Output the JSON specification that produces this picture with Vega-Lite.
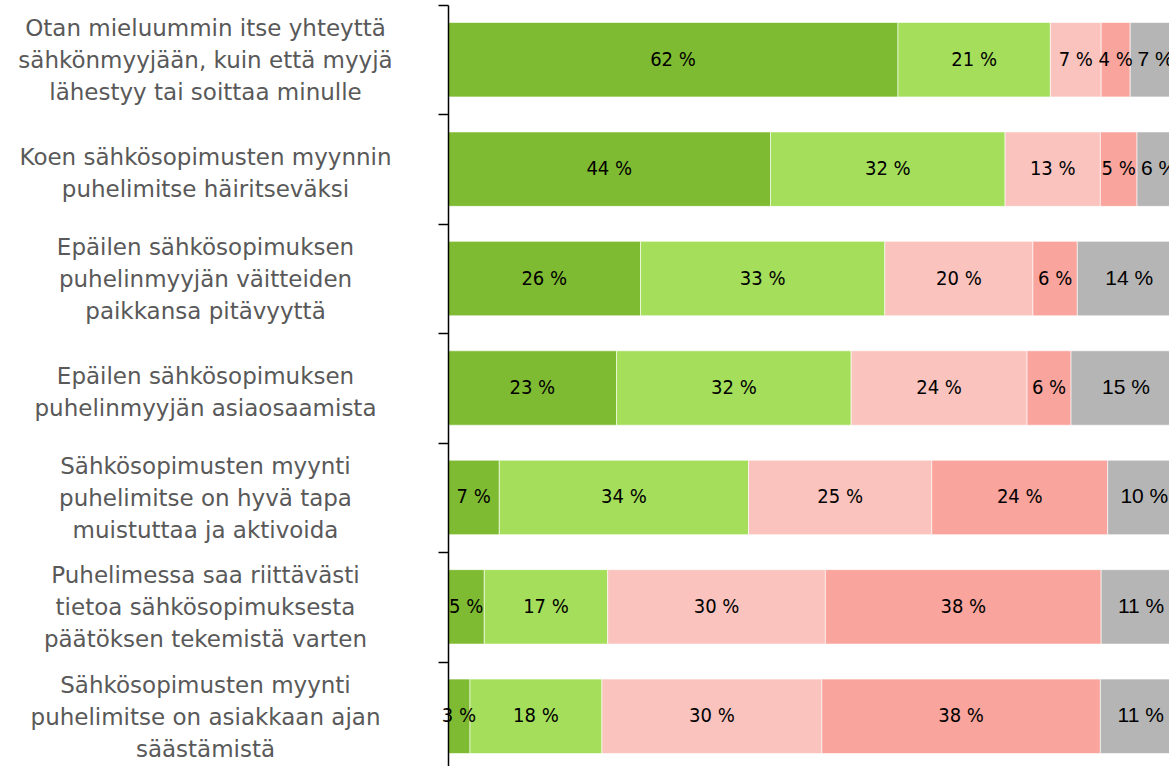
{
  "$schema": "https://vega.github.io/schema/vega-lite/v6.json",
  "width": 733,
  "height": 766,
  "autosize": {"type": "none"},
  "padding": {"left": 448, "top": 5, "right": 0, "bottom": 0},
  "config": {"view": {"stroke": null}},
  "data": {
    "values": [
      {"q": "Otan mieluummin itse yhteyttä\nsähkönmyyjään, kuin että myyjä\nlähestyy tai soittaa minulle", "o": 1, "s": "a", "v": 62},
      {"q": "Otan mieluummin itse yhteyttä\nsähkönmyyjään, kuin että myyjä\nlähestyy tai soittaa minulle", "o": 2, "s": "b", "v": 21},
      {"q": "Otan mieluummin itse yhteyttä\nsähkönmyyjään, kuin että myyjä\nlähestyy tai soittaa minulle", "o": 3, "s": "c", "v": 7},
      {"q": "Otan mieluummin itse yhteyttä\nsähkönmyyjään, kuin että myyjä\nlähestyy tai soittaa minulle", "o": 4, "s": "d", "v": 4},
      {"q": "Otan mieluummin itse yhteyttä\nsähkönmyyjään, kuin että myyjä\nlähestyy tai soittaa minulle", "o": 5, "s": "e", "v": 7},
      {"q": "Koen sähkösopimusten myynnin\npuhelimitse häiritseväksi", "o": 1, "s": "a", "v": 44},
      {"q": "Koen sähkösopimusten myynnin\npuhelimitse häiritseväksi", "o": 2, "s": "b", "v": 32},
      {"q": "Koen sähkösopimusten myynnin\npuhelimitse häiritseväksi", "o": 3, "s": "c", "v": 13},
      {"q": "Koen sähkösopimusten myynnin\npuhelimitse häiritseväksi", "o": 4, "s": "d", "v": 5},
      {"q": "Koen sähkösopimusten myynnin\npuhelimitse häiritseväksi", "o": 5, "s": "e", "v": 6},
      {"q": "Epäilen sähkösopimuksen\npuhelinmyyjän väitteiden\npaikkansa pitävyyttä", "o": 1, "s": "a", "v": 26},
      {"q": "Epäilen sähkösopimuksen\npuhelinmyyjän väitteiden\npaikkansa pitävyyttä", "o": 2, "s": "b", "v": 33},
      {"q": "Epäilen sähkösopimuksen\npuhelinmyyjän väitteiden\npaikkansa pitävyyttä", "o": 3, "s": "c", "v": 20},
      {"q": "Epäilen sähkösopimuksen\npuhelinmyyjän väitteiden\npaikkansa pitävyyttä", "o": 4, "s": "d", "v": 6},
      {"q": "Epäilen sähkösopimuksen\npuhelinmyyjän väitteiden\npaikkansa pitävyyttä", "o": 5, "s": "e", "v": 14},
      {"q": "Epäilen sähkösopimuksen\npuhelinmyyjän asiaosaamista", "o": 1, "s": "a", "v": 23},
      {"q": "Epäilen sähkösopimuksen\npuhelinmyyjän asiaosaamista", "o": 2, "s": "b", "v": 32},
      {"q": "Epäilen sähkösopimuksen\npuhelinmyyjän asiaosaamista", "o": 3, "s": "c", "v": 24},
      {"q": "Epäilen sähkösopimuksen\npuhelinmyyjän asiaosaamista", "o": 4, "s": "d", "v": 6},
      {"q": "Epäilen sähkösopimuksen\npuhelinmyyjän asiaosaamista", "o": 5, "s": "e", "v": 15},
      {"q": "Sähkösopimusten myynti\npuhelimitse on hyvä tapa\nmuistuttaa ja aktivoida", "o": 1, "s": "a", "v": 7},
      {"q": "Sähkösopimusten myynti\npuhelimitse on hyvä tapa\nmuistuttaa ja aktivoida", "o": 2, "s": "b", "v": 34},
      {"q": "Sähkösopimusten myynti\npuhelimitse on hyvä tapa\nmuistuttaa ja aktivoida", "o": 3, "s": "c", "v": 25},
      {"q": "Sähkösopimusten myynti\npuhelimitse on hyvä tapa\nmuistuttaa ja aktivoida", "o": 4, "s": "d", "v": 24},
      {"q": "Sähkösopimusten myynti\npuhelimitse on hyvä tapa\nmuistuttaa ja aktivoida", "o": 5, "s": "e", "v": 10},
      {"q": "Puhelimessa saa riittävästi\ntietoa sähkösopimuksesta\npäätöksen tekemistä varten", "o": 1, "s": "a", "v": 5},
      {"q": "Puhelimessa saa riittävästi\ntietoa sähkösopimuksesta\npäätöksen tekemistä varten", "o": 2, "s": "b", "v": 17},
      {"q": "Puhelimessa saa riittävästi\ntietoa sähkösopimuksesta\npäätöksen tekemistä varten", "o": 3, "s": "c", "v": 30},
      {"q": "Puhelimessa saa riittävästi\ntietoa sähkösopimuksesta\npäätöksen tekemistä varten", "o": 4, "s": "d", "v": 38},
      {"q": "Puhelimessa saa riittävästi\ntietoa sähkösopimuksesta\npäätöksen tekemistä varten", "o": 5, "s": "e", "v": 11},
      {"q": "Sähkösopimusten myynti\npuhelimitse on asiakkaan ajan\nsäästämistä", "o": 1, "s": "a", "v": 3},
      {"q": "Sähkösopimusten myynti\npuhelimitse on asiakkaan ajan\nsäästämistä", "o": 2, "s": "b", "v": 18},
      {"q": "Sähkösopimusten myynti\npuhelimitse on asiakkaan ajan\nsäästämistä", "o": 3, "s": "c", "v": 30},
      {"q": "Sähkösopimusten myynti\npuhelimitse on asiakkaan ajan\nsäästämistä", "o": 4, "s": "d", "v": 38},
      {"q": "Sähkösopimusten myynti\npuhelimitse on asiakkaan ajan\nsäästämistä", "o": 5, "s": "e", "v": 11}
    ]
  },
  "transform": [
    {"stack": "v", "groupby": ["q"], "sort": [{"field": "o"}], "offset": "normalize", "as": ["x0", "x1"]},
    {"calculate": "(datum.x0 + datum.x1) / 2", "as": "xm"},
    {"calculate": "datum.v + ' %'", "as": "lbl"}
  ],
  "encoding": {
    "y": {
      "field": "q",
      "type": "nominal",
      "sort": null,
      "scale": {"paddingInner": 0, "paddingOuter": 0},
      "axis": {
        "title": null,
        "zindex": 1,
        "domainColor": "#000000",
        "domainWidth": 1.5,
        "tickColor": "#000000",
        "tickWidth": 1.5,
        "tickSize": 10,
        "tickBand": "extent",
        "labelAlign": "center",
        "labelBaseline": "middle",
        "labelPadding": 233,
        "labelFontSize": 23,
        "labelFont": "DejaVu Sans",
        "labelColor": "#595959",
        "labelLimit": 0,
        "labelLineHeight": 32,
        "labelOffset": {"condition": {"test": "length(split(datum.value, '\\n')) == 3", "value": -31}, "value": -12},
        "labelExpr": "split(datum.label, '\\n')"
      }
    }
  },
  "layer": [
    {
      "mark": {"type": "bar", "stroke": "#ffffff", "strokeWidth": 0.6, "height": {"band": 0.68}},
      "encoding": {
        "x": {"field": "x0", "type": "quantitative", "scale": {"domain": [0, 1]}, "axis": null},
        "x2": {"field": "x1"},
        "color": {
          "field": "s",
          "type": "nominal",
          "scale": {"domain": ["a", "b", "c", "d", "e"], "range": ["#7FBB32", "#A4DE5A", "#FAC3BE", "#F9A49C", "#B5B5B5"]},
          "legend": null
        }
      }
    },
    {
      "transform": [{"filter": "datum.o < 5"}],
      "mark": {"type": "text", "font": "DejaVu Sans Condensed", "fontSize": 20, "color": "#000000"},
      "encoding": {
        "x": {"field": "xm", "type": "quantitative"},
        "text": {"field": "lbl"}
      }
    },
    {
      "transform": [{"filter": "datum.o == 5"}],
      "mark": {"type": "text", "font": "Liberation Sans", "fontSize": 21, "color": "#000000"},
      "encoding": {
        "x": {"field": "xm", "type": "quantitative"},
        "text": {"field": "lbl"}
      }
    }
  ]
}
